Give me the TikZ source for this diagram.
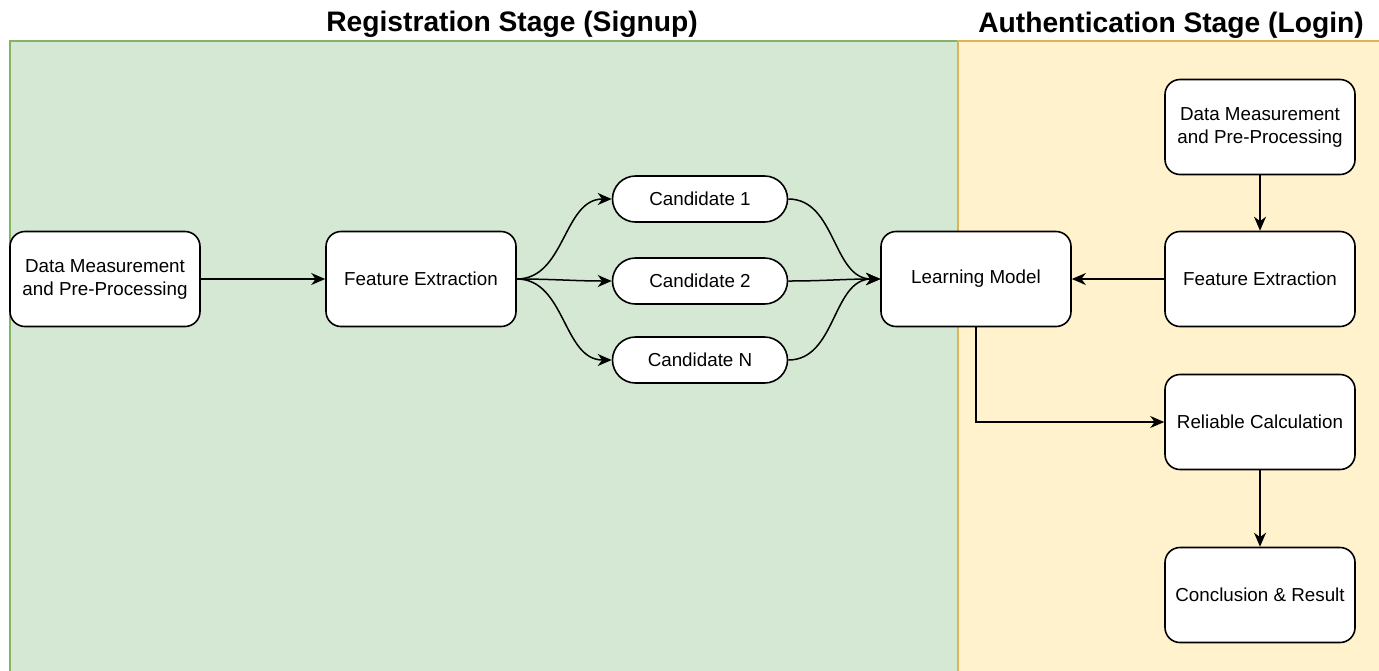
\documentclass[tikz,border=0pt]{standalone}
\usepackage{fontspec}
\setmainfont{Liberation Sans}
\usetikzlibrary{positioning, arrows.meta}

\begin{document}
\begin{tikzpicture}[
					x=0.5pt, y=-0.5pt,
					stagebox/.style={draw, line width=0.8pt, rounded corners=7.5pt, fill=white,
						minimum width=95pt, minimum height=47.5pt, align=center,
						font=\fontsize{9.4}{11.5}\selectfont, inner sep=1pt},
					candbox/.style={draw, line width=0.8pt, rounded corners=11.5pt, fill=white,
						minimum width=87.5pt, minimum height=23pt,
						font=\fontsize{9.4}{11.5}\selectfont},
					stagetitle/.style={font=\bfseries\fontsize{14.1}{16}\selectfont},
					flow/.style={draw, line width=0.75pt, -{Stealth[length=7pt, width=6pt, inset=2.2pt]}}]
	\useasboundingbox (0,0) rectangle (1379,670);
	% stage areas
	\fill[fill={rgb,255:red,213;green,232;blue,212}] (10,41) rectangle (958,690);
	\fill[fill={rgb,255:red,255;green,242;blue,204}] (958,41) rectangle (1390,690);
	\draw[draw={rgb,255:red,130;green,179;blue,102}, line width=1pt] (10,690) -- (10,41) -- (958,41);
	\draw[draw={rgb,255:red,214;green,182;blue,86}, line width=1pt] (958,690) -- (958,41) -- (1390,41);
	\node[stagetitle] (regtitle) at (512,24) {Registration Stage (Signup)};
	\node[stagetitle] (authtitle) at (1171,25) {Authentication Stage (Login)};
	% registration
	\node[stagebox] (regdata) at (105,279) {Data Measurement\\and Pre-Processing};
	\node[stagebox] (regfeat) at (421,279) {Feature Extraction};
	\node[candbox] (cand1) at (700,199) {Candidate 1};
	\node[candbox] (cand2) at (700,281) {Candidate 2};
	\node[candbox] (candn) at (700,360) {Candidate N};
	\node[stagebox] (model) at (976,279) {Learning Model};
	% authentication
	\node[stagebox] (authdata) at (1260,127) {Data Measurement\\and Pre-Processing};
	\node[stagebox] (authfeat) at (1260,279) {Feature Extraction};
	\node[stagebox] (reliable) at (1260,422) {Reliable Calculation};
	\node[stagebox] (result) at (1260,595) {Conclusion \& Result};
	% connectors
	\draw[flow] (regdata) -- (regfeat);
	\draw[flow] (regfeat.east) to[out=0, in=180] (cand1.west);
	\draw[flow] (regfeat.east) to[out=0, in=180] (cand2.west);
	\draw[flow] (regfeat.east) to[out=0, in=180] (candn.west);
	\draw[flow] (cand1.east) to[out=0, in=180] (model.west);
	\draw[flow] (cand2.east) to[out=0, in=180] (model.west);
	\draw[flow] (candn.east) to[out=0, in=180] (model.west);
	\draw[flow] (authdata) -- (authfeat);
	\draw[flow] (authfeat) -- (model);
	\draw[flow] (model.south) |- (reliable.west);
	\draw[flow] (reliable) -- (result);
\end{tikzpicture}
\end{document}
